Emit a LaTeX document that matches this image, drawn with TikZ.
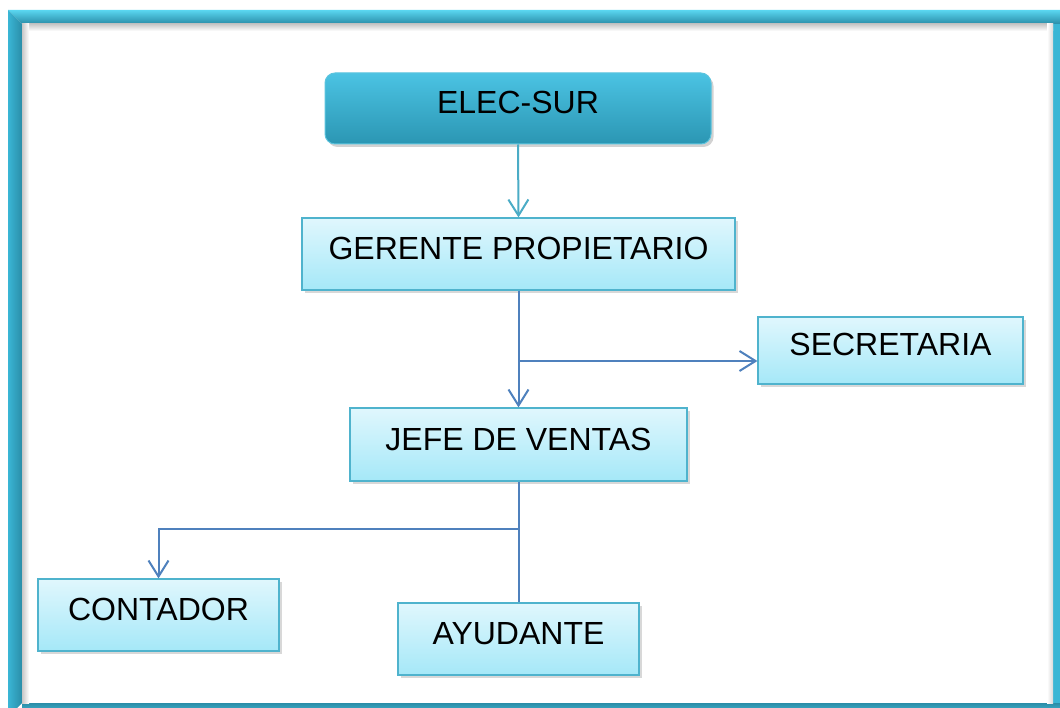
\documentclass[tikz,border=0pt]{standalone}
\usepackage{fontspec}
\setmainfont{Liberation Sans}
\usetikzlibrary{arrows.meta,shadows}
\definecolor{boxtop}{HTML}{E0F7FD}
\definecolor{boxbot}{HTML}{A5E8F8}
\definecolor{boxline}{HTML}{4FB3CD}
\definecolor{linkblue}{HTML}{4F81BD}
\definecolor{linkteal}{HTML}{4BACC6}
\definecolor{headtop}{HTML}{4BC3E3}
\definecolor{headbot}{HTML}{2B96B3}
\definecolor{headline}{HTML}{5CC4DE}
\definecolor{framelight}{HTML}{5AD6F0}
\definecolor{framemid}{HTML}{3AB6D5}
\definecolor{framedark}{HTML}{2A8DA8}
\begin{document}
\begin{tikzpicture}[x=1pt,y=-1pt,
  orgbox/.style={rectangle, draw=boxline, line width=1.2pt, top color=boxtop, bottom color=boxbot,
    inner sep=0pt, text height=23pt, text depth=12pt, font=\fontsize{32}{36}\selectfont,
    drop shadow={shadow xshift=2.5pt,shadow yshift=-3pt,opacity=0.3}},
  headbox/.style={rectangle, rounded corners=10pt, draw=headline, line width=1pt, top color=headtop, bottom color=headbot,
    inner sep=0pt, text height=23pt, text depth=12pt, font=\fontsize{32}{36}\selectfont,
    drop shadow={shadow xshift=2.5pt,shadow yshift=-3pt,opacity=0.35}},
  link/.style={draw=linkblue, line width=2pt},
  tip/.style={-{Straight Barb[length=16pt,width=20pt,line width=2pt]}}
]
\useasboundingbox (0,0) rectangle (1060,708);
\clip (0,0) rectangle (1060,708);
% frame
\fill[white] (0,0) rectangle (1060,708);
\shade[top color=framelight, bottom color=framedark] (8,10) -- (1075,10) -- (1075,24) -- (22,24) -- cycle;
\shade[left color=framemid, right color=framedark] (8,10) -- (22,24) -- (22,703) -- (8,717) -- cycle;
\fill[framemid] (1053,24) rectangle (1075,720);
\shade[top color=framedark, bottom color=framelight] (22,703) rectangle (1075,720);
\shade[top color=black!22, bottom color=white] (22,24) rectangle (1053,31);
\shade[left color=black!22, right color=white] (22,24) rectangle (29,703);
\shade[left color=white, right color=black!15] (1047,24) rectangle (1053,703);
% nodes
\node[headbox, minimum width=386pt, minimum height=71pt] (elec) at (518,108.5) {ELEC-SUR};
\node[orgbox, minimum width=433pt, minimum height=72pt] (ger) at (518.5,254) {GERENTE PROPIETARIO};
\node[orgbox, minimum width=265pt, minimum height=67pt] (sec) at (890.5,350.5) {SECRETARIA};
\node[orgbox, minimum width=337pt, minimum height=73pt] (jefe) at (518.5,444.5) {JEFE DE VENTAS};
\node[orgbox, minimum width=241pt, minimum height=72pt] (cont) at (158.5,615) {CONTADOR};
\node[orgbox, minimum width=241pt, minimum height=72pt] (ayu) at (518.5,639) {AYUDANTE};
% connectors
\coordinate (j1) at (518.5,361);
\coordinate (j2) at (518.5,529);
\draw[draw=linkteal, line width=2pt, -{Straight Barb[length=16pt,width=20pt,line width=2pt]}] (elec.south) -- (ger.north);
\draw[link, tip] (ger.south) -- (jefe.north);
\draw[link, tip] (j1) -- (j1 -| sec.west);
\draw[link] (jefe.south) -- (ayu.north);
\draw[link, tip] (j2) -| (cont.north);
\end{tikzpicture}
\end{document}
